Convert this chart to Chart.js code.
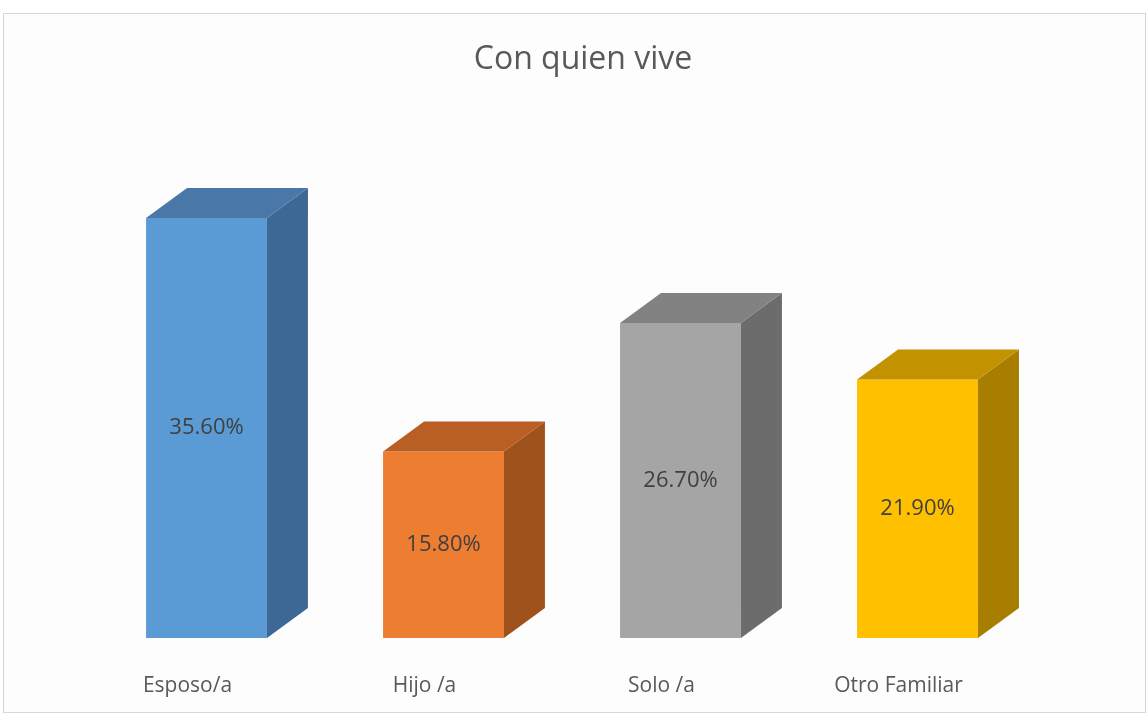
<!DOCTYPE html>
<html lang="es">
<head>
<meta charset="UTF-8">
<title>Con quien vive</title>
<style>
  html, body { margin: 0; padding: 0; background: #fff; }
  #wrap { width: 1147px; height: 714px; }
</style>
</head>
<body>
<div id="wrap"><canvas id="grafica"></canvas></div>

<script src="https://cdn.jsdelivr.net/npm/chart.js"></script>
<script>
// datos
const categorias = ["Esposo/a", "Hijo /a", "Solo /a", "Otro Familiar"];
const porcentajes = [35.6, 15.8, 26.7, 21.9];

// colores: cara frontal, cara lateral, cara superior
const colorFrente = ["#5B9BD5", "#ED7D31", "#A5A5A5", "#FFC000"];
const colorLado   = ["#3D6895", "#A0521D", "#6C6C6C", "#A87E00"];
const colorTapa   = ["#4877A8", "#B95F24", "#828282", "#C39200"];

const fuente = "'Open Sans', 'DejaVu Sans', sans-serif";

// fondo, marco y titulo
const marco = {
  id: "marco",
  beforeDraw(chart) {
    const ctx = chart.ctx;
    ctx.save();
    ctx.fillStyle = "#ffffff";
    ctx.fillRect(0, 0, chart.width, chart.height);
    ctx.fillStyle = "#fdfdfd";
    ctx.fillRect(4, 14, 1141, 698);
    ctx.strokeStyle = "#d6d6d6";
    ctx.lineWidth = 1;
    ctx.strokeRect(3.5, 13.5, 1142, 699);
    ctx.restore();
  },
  afterDraw(chart) {
    const ctx = chart.ctx;
    ctx.save();
    ctx.font = "32px " + fuente;
    ctx.fillStyle = "#595959";
    ctx.textAlign = "center";
    ctx.textBaseline = "middle";
    ctx.fillText("Con quien vive", 583, 60);
    ctx.restore();
  }
};

// caras 3D y etiquetas de datos
const columnas3d = {
  id: "columnas3d",
  afterDatasetsDraw(chart) {
    const ctx = chart.ctx;
    const meta = chart.getDatasetMeta(0);
    const dx = 41, dy = -30;
    ctx.save();
    meta.data.forEach((bar, i) => {
      const izq = bar.x - bar.width / 2;
      const der = bar.x + bar.width / 2;
      const arriba = bar.y;
      const abajo = bar.base;

      // lateral
      ctx.fillStyle = colorLado[i];
      ctx.beginPath();
      ctx.moveTo(der, arriba);
      ctx.lineTo(der + dx, arriba + dy);
      ctx.lineTo(der + dx, abajo + dy);
      ctx.lineTo(der, abajo);
      ctx.closePath();
      ctx.fill();

      // tapa
      ctx.fillStyle = colorTapa[i];
      ctx.beginPath();
      ctx.moveTo(izq, arriba);
      ctx.lineTo(izq + dx, arriba + dy);
      ctx.lineTo(der + dx, arriba + dy);
      ctx.lineTo(der, arriba);
      ctx.closePath();
      ctx.fill();

      // etiqueta
      ctx.font = "22px " + fuente;
      ctx.fillStyle = "#404040";
      ctx.textAlign = "center";
      ctx.textBaseline = "middle";
      ctx.fillText(porcentajes[i].toFixed(2) + "%", bar.x, (arriba + abajo) / 2);
    });
    ctx.restore();
  }
};

new Chart(document.getElementById("grafica"), {
  type: "bar",
  data: {
    labels: categorias,
    datasets: [{
      data: porcentajes,
      backgroundColor: colorFrente,
      borderWidth: 0,
      barPercentage: 1,
      categoryPercentage: 0.51
    }]
  },
  options: {
    responsive: true,
    maintainAspectRatio: false,
    animation: false,
    layout: { padding: { left: 88, right: 111, top: 166, bottom: 0 } },
    plugins: {
      legend: { display: false },
      title: { display: false },
      tooltip: { enabled: false }
    },
    scales: {
      y: { display: false, min: 0, max: 40 },
      x: {
        grid: { display: false },
        border: { display: false },
        afterFit(scale) { scale.height = 76; },
        ticks: {
          padding: 27,
          labelOffset: -19,
          color: "#595959",
          font: { family: fuente, size: 21 }
        }
      }
    }
  },
  plugins: [marco, columnas3d]
});
</script>
</body>
</html>
